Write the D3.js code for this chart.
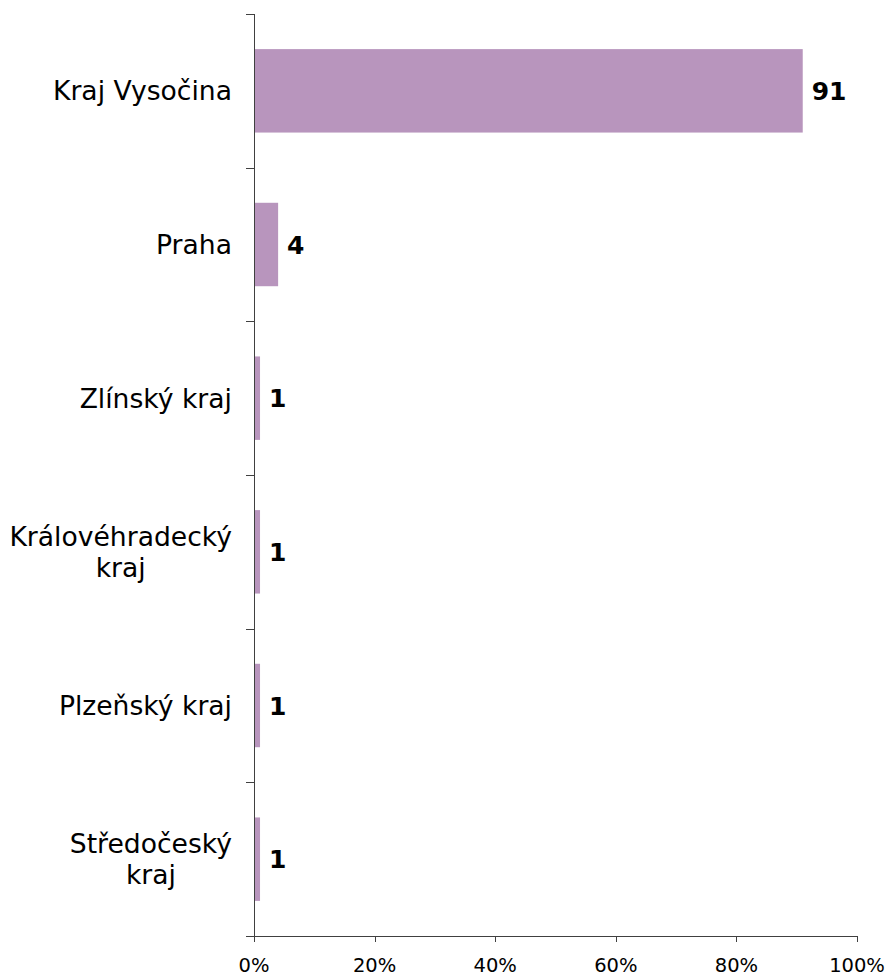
<!DOCTYPE html>
<html>
<head>
<meta charset="utf-8">
<script src="https://cdn.jsdelivr.net/npm/d3@7"></script>
<style>
  html, body { margin: 0; padding: 0; background: #ffffff; }
  svg { display: block; }
  text { font-family: "DejaVu Sans", Verdana, sans-serif; fill: #000; }
</style>
</head>
<body>
<svg id="chart" width="890" height="976"></svg>
<script>
// Regions and their share (%)
const categories = ["Kraj Vysočina", "Praha", "Zlínský kraj", "Královéhradecký kraj", "Plzeňský kraj", "Středočeský kraj"];
const values = [91, 4, 1, 1, 1, 1];
const tickValues = [0, 20, 40, 60, 80, 100];
const tickLabels = ["0%", "20%", "40%", "60%", "80%", "100%"];

(function () {
  const svg = d3.select("#chart");
  const plotLeft = 254, plotRight = 857, plotTop = 14, plotBottom = 936;
  const axisColor = "#404040";
  const barColor = "#b895bd";

  const x = d3.scaleLinear().domain([0, 100]).range([plotLeft, plotRight]);
  const y = d3.scaleBand().domain(categories).range([plotTop, plotBottom])
    .paddingInner(0.457).paddingOuter(0.2285);

  const gap = y.step() * 0.457 / 2;

  // bars
  svg.append("g").selectAll("rect")
    .data(categories)
    .join("rect")
    .attr("x", x(0) + 1)
    .attr("y", d => y(d))
    .attr("width", (d, i) => Math.max(0, x(values[i]) - x(0) - 1))
    .attr("height", y.bandwidth())
    .attr("fill", barColor);

  // value labels
  svg.append("g").selectAll("text")
    .data(categories)
    .join("text")
    .attr("x", (d, i) => x(values[i]) + 9)
    .attr("y", d => y(d) + y.bandwidth() / 2)
    .attr("dy", "0.37em")
    .style("font-size", "25px")
    .style("font-weight", "bold")
    .text((d, i) => values[i]);

  // y axis line and category-boundary ticks
  const yAxis = svg.append("g").attr("shape-rendering", "crispEdges");
  yAxis.append("line")
    .attr("x1", plotLeft + 0.5).attr("x2", plotLeft + 0.5)
    .attr("y1", plotTop).attr("y2", plotBottom)
    .attr("stroke", axisColor);
  const boundaries = categories.map(c => y(c) - gap).concat([plotBottom]);
  yAxis.selectAll("line.tick")
    .data(boundaries)
    .join("line")
    .attr("class", "tick")
    .attr("x1", plotLeft - 8).attr("x2", plotLeft + 0.5)
    .attr("y1", d => Math.round(d) + 0.5).attr("y2", d => Math.round(d) + 0.5)
    .attr("stroke", axisColor);

  // category labels, wrapped to a maximum width
  const maxWidth = 195;
  const lineHeight = 31;
  const labelRight = 232;
  svg.append("g").selectAll("text")
    .data(categories)
    .join("text")
    .attr("text-anchor", "end")
    .style("font-size", "26.6px")
    .attr("x", labelRight)
    .each(function (d) {
      const t = d3.select(this);
      const words = d.split(" ");
      const lines = [];
      let current = [];
      const probe = t.append("tspan");
      words.forEach(w => {
        probe.text(current.concat([w]).join(" "));
        if (current.length && probe.node().getComputedTextLength() > maxWidth) {
          lines.push(current.join(" "));
          current = [w];
        } else {
          current.push(w);
        }
      });
      lines.push(current.join(" "));
      probe.remove();
      const cy = y(d) + y.bandwidth() / 2;
      const firstBaseline = cy + 9.5 - (lines.length - 1) * lineHeight / 2;
      lines.forEach((l, i) => {
        t.append("tspan")
          .attr("x", labelRight)
          .attr("y", firstBaseline + i * lineHeight)
          .text(l);
      });
      if (lines.length > 1) {
        // wrapped lines are centred on each other, right edge at the label column
        const widths = [];
        t.selectAll("tspan").each(function () { widths.push(this.getComputedTextLength()); });
        const w = d3.max(widths);
        t.attr("text-anchor", "middle");
        t.selectAll("tspan").attr("x", labelRight - w / 2);
      }
    });

  // x axis
  const xAxis = svg.append("g").attr("shape-rendering", "crispEdges");
  xAxis.append("line")
    .attr("x1", plotLeft - 8).attr("x2", plotRight + 0.5)
    .attr("y1", plotBottom + 0.5).attr("y2", plotBottom + 0.5)
    .attr("stroke", axisColor);
  xAxis.selectAll("line.tick")
    .data(tickValues)
    .join("line")
    .attr("class", "tick")
    .attr("x1", d => Math.round(x(d)) + 0.5).attr("x2", d => Math.round(x(d)) + 0.5)
    .attr("y1", plotBottom).attr("y2", plotBottom + 6)
    .attr("stroke", axisColor);
  svg.append("g").selectAll("text")
    .data(tickValues)
    .join("text")
    .attr("x", d => x(d))
    .attr("y", plotBottom + 36)
    .attr("text-anchor", "middle")
    .style("font-size", "19.5px")
    .text((d, i) => tickLabels[i]);
})();
</script>
</body>
</html>
